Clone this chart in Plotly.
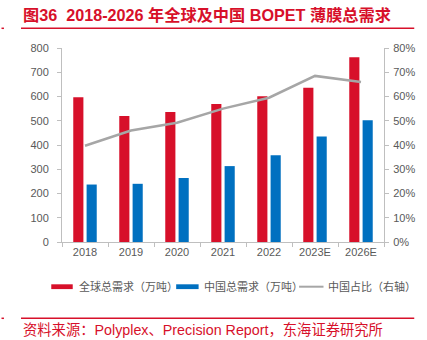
import plotly.graph_objects as go

years = ["2018", "2019", "2020", "2021", "2022", "2023E", "2026E"]
global_demand = [597, 520, 536, 569, 601, 636, 762]
china_demand = [237, 240, 264, 313, 358, 435, 502]
china_share = [0.397, 0.46, 0.492, 0.55, 0.595, 0.685, 0.66]

RED = "#D7102A"
BLUE = "#0070C0"
GRAY = "#A6A6A6"
TXT = "#595959"
AXC = "#BFBFBF"
FONT = "Liberation Sans, Arial, Noto Sans CJK SC"

W, H = 427, 340
L, R, T, B = 62, 35, 48, 98
PW, PH = W - L - R, H - T - B


def px(x):
    return (x - L) / PW


def py(y):
    return (H - B - y) / PH


fig = go.Figure()
fig.add_bar(x=years, y=global_demand, name="全球总需求（万吨）", marker_color=RED,
            marker_line_width=0, showlegend=False)
fig.add_bar(x=years, y=china_demand, name="中国总需求（万吨）", marker_color=BLUE,
            marker_line_width=0, showlegend=False)
fig.add_scatter(x=years, y=china_share, name="中国占比（右轴）", yaxis="y2", mode="lines",
                line=dict(color=GRAY, width=2.5), showlegend=False)

shapes = []
annotations = []
# title + lines
annotations.append(dict(text="<b>图36  2018-2026 年全球及中国 BOPET 薄膜总需求</b>", x=px(20), y=py(15),
                        xref="paper", yref="paper", xanchor="left", yanchor="middle", showarrow=False,
                        font=dict(family=FONT, size=16.2, color=RED)))
for yy in (28.3, 318.3):
    shapes.append(dict(type="line", xref="paper", yref="paper", x0=px(20), x1=px(423), y0=py(yy), y1=py(yy),
                       line=dict(color=RED, width=1.5)))
    shapes.append(dict(type="line", xref="paper", yref="paper", x0=px(0), x1=px(2.5), y0=py(yy), y1=py(yy),
                       line=dict(color=RED, width=1.5)))
annotations.append(dict(text="资料来源：Polyplex、Precision Report，东海证券研究所", x=px(20), y=py(330),
                        xref="paper", yref="paper", xanchor="left", yanchor="middle", showarrow=False,
                        font=dict(family=FONT, size=14.3, color=RED)))
# legend
ly = 286.7
shapes.append(dict(type="rect", xref="paper", yref="paper", x0=px(51), x1=px(73), y0=py(ly - 2.4), y1=py(ly + 2.4),
                   fillcolor=RED, line_width=0))
shapes.append(dict(type="rect", xref="paper", yref="paper", x0=px(179), x1=px(202), y0=py(ly - 2.4), y1=py(ly + 2.4),
                   fillcolor=BLUE, line_width=0))
shapes.append(dict(type="line", xref="paper", yref="paper", x0=px(305), x1=px(330), y0=py(ly), y1=py(ly),
                   line=dict(color=GRAY, width=2)))
for tx, t in ((77, "全球总需求（万吨）"), (205, "中国总需求（万吨）"), (333, "中国占比（右轴）")):
    annotations.append(dict(text=t, x=px(tx), y=py(ly), xref="paper", yref="paper", xanchor="left",
                            yanchor="middle", showarrow=False, font=dict(family=FONT, size=11, color=TXT)))

fig.update_layout(
    width=W, height=H, margin=dict(l=L, r=R, t=T, b=B),
    paper_bgcolor="white", plot_bgcolor="white",
    barmode="group", bargap=0.42, bargroupgap=0.24,
    font=dict(family=FONT, size=11, color=TXT),
    xaxis=dict(showline=True, linecolor=AXC, linewidth=1, ticks="outside", tickson="boundaries",
               ticklen=4, tickcolor=AXC, showgrid=False, tickfont=dict(size=11, color=TXT)),
    yaxis=dict(range=[0, 800], dtick=100, showline=True, linecolor=AXC, ticks="outside", ticklen=4,
               tickcolor=AXC, showgrid=False, zeroline=False, ticklabelstandoff=6,
               tickfont=dict(size=11, color=TXT)),
    yaxis2=dict(range=[0, 0.8], dtick=0.1, tickformat=".0%", overlaying="y", side="right",
                showline=True, linecolor=AXC, ticks="outside", ticklen=4, tickcolor=AXC,
                showgrid=False, zeroline=False, ticklabelstandoff=2, tickfont=dict(size=11, color=TXT)),
    shapes=shapes, annotations=annotations, showlegend=False,
)

fig.write_html("out.html")
